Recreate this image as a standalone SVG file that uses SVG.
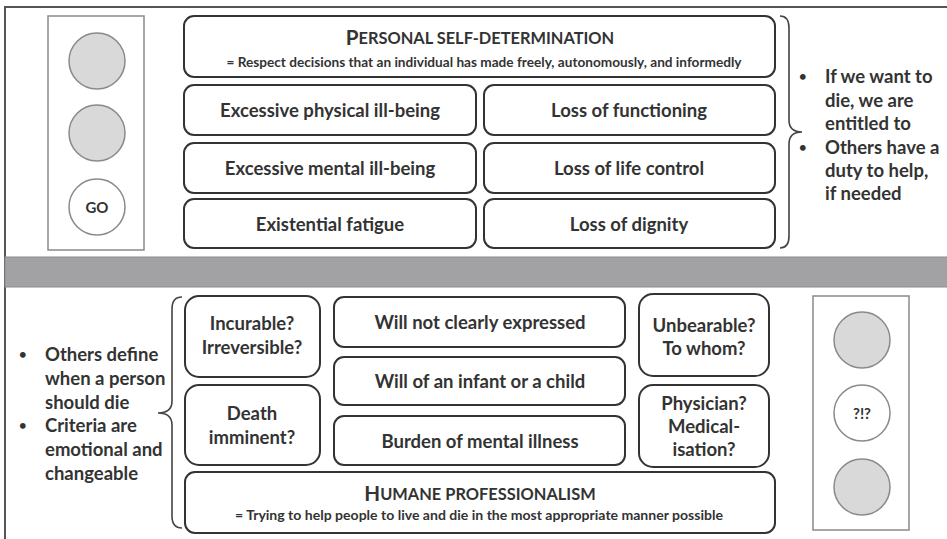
<svg xmlns="http://www.w3.org/2000/svg" width="947" height="539" viewBox="0 0 947 539">
<defs>
<style>
.frame{fill:none;stroke:#555;stroke-width:2}
.band{fill:#a2a2a4;stroke:#8e8e90;stroke-width:1}
.box{fill:#fff;stroke:#333;stroke-width:2}
.light{fill:#fff;stroke:#8a8a8a;stroke-width:1.5}
.off{fill:#d9d9d9;stroke:#8a8a8a;stroke-width:1.5}
.on{fill:#fff;stroke:#8a8a8a;stroke-width:1.5}
.brace{fill:none;stroke:#444;stroke-width:1.6}
text{font-family:Lato,"Open Sans","Liberation Sans",sans-serif;font-weight:700;fill:#333;dominant-baseline:central}
.c{text-anchor:middle}
.lbl{font-size:18.5px}
.big{font-size:18.5px}
.dot{font-size:13px}
.sub{font-size:13px}
.ttl{font-size:16.4px}
.cap{font-size:20.6px}
</style>
</defs>
<rect width="947" height="539" fill="#fff"/>
<g id="frame">
<path class="frame" d="M5,539 L5,7 L947,7"/>
<rect class="band" x="5" y="257" width="943" height="30"/>
</g>
<g id="light-top">
<rect class="light" x="48" y="16" width="96" height="234"/>
<circle class="off" cx="97" cy="61" r="28"/>
<circle class="off" cx="97" cy="133" r="28"/>
<circle class="on" cx="97" cy="207" r="28"/>
<text class="c" x="97" y="207" font-size="15">GO</text>
</g>
<g id="personal">
<rect class="box" x="184" y="16" width="591" height="61" rx="10"/>
<text class="c ttl" x="480" y="37"><tspan class="cap">P</tspan>ERSONAL SELF-DETERMINATION</text>
<text class="c sub" x="484" y="62" textLength="515" lengthAdjust="spacingAndGlyphs">= Respect decisions that an individual has made freely, autonomously, and informedly</text>
</g>
<g id="phys"><rect class="box" x="184" y="85" width="292" height="50" rx="10"/><text class="c lbl" x="330" y="110">Excessive physical ill-being</text></g>
<g id="func"><rect class="box" x="484" y="85" width="291" height="50" rx="10"/><text class="c lbl" x="629" y="110">Loss of functioning</text></g>
<g id="mental"><rect class="box" x="184" y="143" width="292" height="50" rx="10"/><text class="c lbl" x="330" y="168">Excessive mental ill-being</text></g>
<g id="control"><rect class="box" x="484" y="143" width="291" height="50" rx="10"/><text class="c lbl" x="629" y="168">Loss of life control</text></g>
<g id="fatigue"><rect class="box" x="184" y="199" width="292" height="49" rx="10"/><text class="c lbl" x="330" y="224">Existential fatigue</text></g>
<g id="dignity"><rect class="box" x="484" y="199" width="291" height="49" rx="10"/><text class="c lbl" x="629" y="224">Loss of dignity</text></g>
<g id="right-notes">
<text class="dot" x="799" y="76">•</text>
<text class="big" x="825" y="76">If we want to</text>
<text class="big" x="825" y="99.5">die, we are</text>
<text class="big" x="825" y="123">entitled to</text>
<text class="dot" x="799" y="147">•</text>
<text class="big" x="825" y="147">Others have a</text>
<text class="big" x="825" y="170">duty to help,</text>
<text class="big" x="825" y="193">if needed</text>
</g>
<g id="left-notes">
<text class="dot" x="19" y="354">•</text>
<text class="big" x="45" y="354">Others define</text>
<text class="big" x="45" y="378">when a person</text>
<text class="big" x="45" y="402">should die</text>
<text class="dot" x="19" y="425">•</text>
<text class="big" x="45" y="425">Criteria are</text>
<text class="big" x="45" y="449">emotional and</text>
<text class="big" x="45" y="473">changeable</text>
</g>
<g id="incurable"><rect class="box" x="185" y="296" width="135" height="81" rx="14"/><text class="c lbl" x="252" y="323">Incurable?</text><text class="c lbl" x="252" y="347">Irreversible?</text></g>
<g id="death"><rect class="box" x="185" y="385" width="135" height="80" rx="14"/><text class="c lbl" x="252" y="413">Death</text><text class="c lbl" x="252" y="437">imminent?</text></g>
<g id="will"><rect class="box" x="334" y="297" width="291" height="50" rx="10"/><text class="c lbl" x="480" y="322">Will not clearly expressed</text></g>
<g id="infant"><rect class="box" x="334" y="357" width="291" height="48" rx="10"/><text class="c lbl" x="480" y="381">Will of an infant or a child</text></g>
<g id="burden"><rect class="box" x="334" y="416" width="291" height="49" rx="10"/><text class="c lbl" x="480" y="441">Burden of mental illness</text></g>
<g id="unbearable"><rect class="box" x="639" y="294" width="130" height="82" rx="14"/><text class="c lbl" x="704" y="325">Unbearable?</text><text class="c lbl" x="704" y="348">To whom?</text></g>
<g id="physician"><rect class="box" x="639" y="385" width="130" height="82" rx="14"/><text class="c lbl" x="704" y="403">Physician?</text><text class="c lbl" x="704" y="426">Medical-</text><text class="c lbl" x="704" y="449">isation?</text></g>
<g id="humane">
<rect class="box" x="185" y="472" width="590" height="61" rx="10"/>
<text class="c ttl" x="480" y="493"><tspan class="cap">H</tspan>UMANE PROFESSIONALISM</text>
<text class="c sub" x="479" y="515" textLength="488" lengthAdjust="spacingAndGlyphs">=  Trying to help people to live and die in the most appropriate manner possible</text>
</g>
<g id="light-bottom">
<rect class="light" x="813" y="296" width="96" height="234"/>
<circle class="off" cx="862" cy="340" r="28"/>
<circle class="on" cx="862" cy="413" r="28"/>
<circle class="off" cx="862" cy="487" r="28"/>
<text class="c" x="862" y="413" font-size="15">?!?</text>
</g>
<g id="connectors">
<path class="brace" d="M780,16 Q789,16 789,28 L789,120 Q789,132 802,132 Q789,132 789,144 L789,236 Q789,248 780,248"/>
<path class="brace" d="M182,297 Q172,297 172,309 L172,401 Q172,413 158,413 Q172,413 172,425 L172,516 Q172,528 182,528"/>
</g>
</svg>
